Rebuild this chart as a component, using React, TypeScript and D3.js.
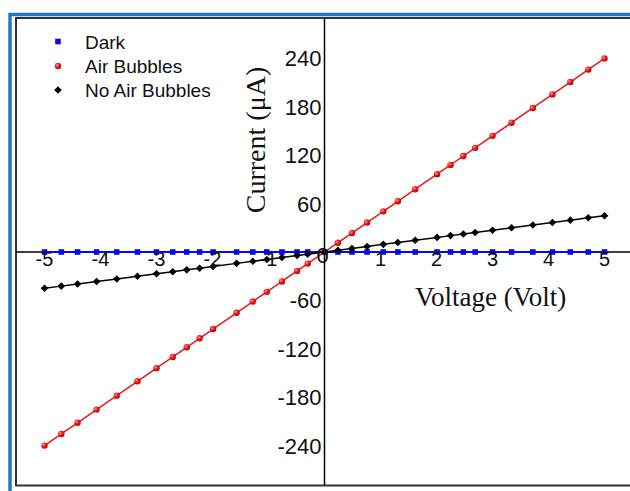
import React from "react";
import * as d3 from "d3";

// Sweep voltages (V) shared by all three measurements
const voltage = [
  -5, -4.7, -4.41, -4.07, -3.71, -3.34, -3.0, -2.71, -2.46, -2.23, -1.99, -1.57,
  -1.28, -1.03, -0.76, -0.49, -0.3, 0, 0.24, 0.49, 0.76, 1.05, 1.31, 1.62, 2.01,
  2.25, 2.48, 2.69, 3.0, 3.34, 3.72, 4.07, 4.39, 4.71, 5.0,
];

// Current (µA) for each condition
const darkCurrent = [
  0, 0, 0, 0, 0, 0, 0, 0, 0, 0, 0, 0, 0, 0, 0, 0, 0, 0, 0, 0, 0, 0, 0, 0, 0, 0, 0,
  0, 0, 0, 0, 0, 0, 0, 0,
];
const airBubbles = [
  -240, -225.6, -211.7, -195.4, -178.1, -160.3, -144, -130.1, -118.1, -107,
  -95.5, -75.4, -61.4, -49.4, -36.5, -23.5, -14.4, 0, 11.5, 23.5, 36.5, 50.4,
  62.9, 77.8, 96.5, 108, 119, 129.1, 144, 160.3, 178.6, 195.4, 210.7, 226.1, 240,
];
const noAirBubbles = [
  -45, -42.3, -39.7, -36.6, -33.4, -30.1, -27, -24.4, -22.1, -20.1, -17.9,
  -14.1, -11.5, -9.3, -6.8, -4.4, -2.7, 0, 2.2, 4.4, 6.8, 9.5, 11.8, 14.6, 18.1,
  20.3, 22.3, 24.2, 27, 30.1, 33.5, 36.6, 39.5, 42.4, 45,
];

// The origin's "0" is shared by both axes and drawn once
const xTicks = [-5, -4, -3, -2, -1, 1, 2, 3, 4, 5];
const yTicks = [-240, -180, -120, -60, 60, 120, 180, 240];
const originLabel = "0";

const legendLabels = ["Dark", "Air Bubbles", "No Air Bubbles"];

const W = 630;
const H = 491;

const x = d3.scaleLinear().domain([-5, 5]).range([44.5, 604.5]);
const y = d3.scaleLinear().domain([-240, 240]).range([445.6, 58.4]);

const BLUE = "#0a0ae6";
const RED = "#e3191e";
const BLACK = "#000";

type Pt = [number, number];
const pts = (vals: number[]): Pt[] => voltage.map((v, i) => [v, vals[i]]);

const line = d3
  .line<Pt>()
  .x((d) => x(d[0]))
  .y((d) => y(d[1]));

const diamond = "M0,-3.8L3.8,0L0,3.8L-3.8,0Z";

const SANS = "'Liberation Sans', Arial, sans-serif";
const SERIF = "'Liberation Serif', 'Times New Roman', serif";

function Square({ cx, cy }: { cx: number; cy: number }) {
  return <rect x={cx - 2.8} y={cy - 2.8} width={5.6} height={5.6} fill={BLUE} />;
}
function Ball({ cx, cy }: { cx: number; cy: number }) {
  return <circle cx={cx} cy={cy} r={3.2} fill="url(#ball)" />;
}
function Diamond({ cx, cy }: { cx: number; cy: number }) {
  return <path d={diamond} transform={`translate(${cx},${cy})`} fill={BLACK} />;
}

export default function App() {
  const x0 = x(0);
  const y0 = y(0);
  const dark = pts(darkCurrent);
  const air = pts(airBubbles);
  const noAir = pts(noAirBubbles);

  return (
    <svg
      width={W}
      height={H}
      style={{ position: "absolute", left: 0, top: 0, background: "#fff" }}
    >
      <defs>
        <radialGradient id="ball" cx="0.35" cy="0.35" r="0.7">
          <stop offset="0" stopColor="#ff9a9a" />
          <stop offset="0.45" stopColor="#ee1c1c" />
          <stop offset="1" stopColor="#b00000" />
        </radialGradient>
      </defs>

      {/* frames */}
      <rect x={10} y={14.5} width={W + 20} height={H + 20} fill="none" stroke="#1c78cc" strokeWidth={3.5} />
      <rect x={16} y={18} width={W} height={467.5} fill="#fff" stroke="#333" strokeWidth={2} />

      {/* axes through origin */}
      <line x1={16} x2={W} y1={y0} y2={y0} stroke="#000" strokeWidth={1.5} />
      <line x1={x0} x2={x0} y1={18} y2={485} stroke="#000" strokeWidth={1.5} />

      {/* series */}
      <path d={line(dark) || ""} fill="none" stroke={BLUE} strokeWidth={2} />
      {dark.map((d, i) => (
        <Square key={i} cx={x(d[0])} cy={y(d[1])} />
      ))}
      <path d={line(air) || ""} fill="none" stroke={RED} strokeWidth={1.5} />
      {air.map((d, i) => (
        <Ball key={i} cx={x(d[0])} cy={y(d[1])} />
      ))}
      <path d={line(noAir) || ""} fill="none" stroke={BLACK} strokeWidth={1.5} />
      {noAir.map((d, i) => (
        <Diamond key={i} cx={x(d[0])} cy={y(d[1])} />
      ))}

      {/* tick labels */}
      {xTicks.map((t) => (
        <text key={"x" + t} x={x(t)} y={y0 + 14} fontFamily={SANS} fontSize={20} textAnchor="middle" fill="#111">
          {t}
        </text>
      ))}
      {yTicks.map((t) => (
        <text key={"y" + t} x={x0 - 3} y={y(t) + 8} fontFamily={SANS} fontSize={22} textAnchor="end" fill="#111">
          {t}
        </text>
      ))}
      <text x={x0 - 2} y={y0 + 11} fontFamily={SANS} fontSize={22} textAnchor="middle" fill="#111">
        {originLabel}
      </text>

      {/* axis titles */}
      <text x={415} y={306} fontFamily={SERIF} fontSize={27} fill="#111">
        Voltage (Volt)
      </text>
      <text
        transform="translate(265,140) rotate(-90)"
        fontFamily={SERIF}
        fontSize={28}
        textAnchor="middle"
        fill="#111"
      >
        Current (μA)
      </text>

      {/* legend */}
      <g fontFamily={SANS} fontSize={19} fill="#111">
        <Square cx={58} cy={41.5} />
        <text x={85} y={48.5}>{legendLabels[0]}</text>
        <Ball cx={58} cy={66} />
        <text x={85} y={73}>{legendLabels[1]}</text>
        <Diamond cx={58} cy={90} />
        <text x={85} y={97}>{legendLabels[2]}</text>
      </g>
    </svg>
  );
}
